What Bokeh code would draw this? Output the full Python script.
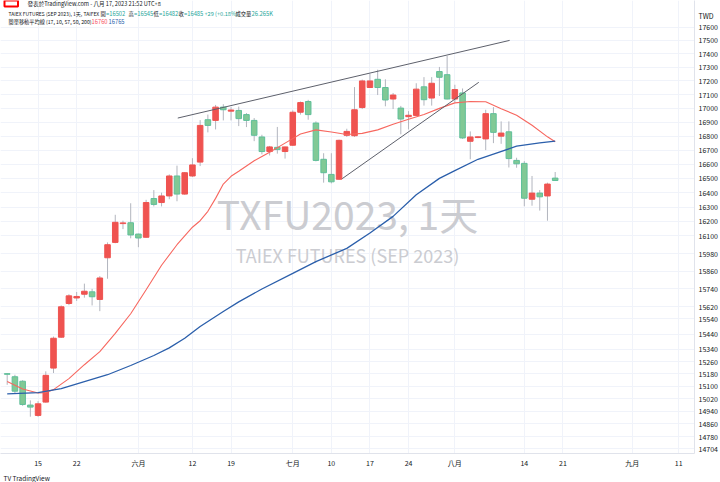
import math
from bokeh.plotting import figure
from bokeh.models import (Range1d, FixedTicker, PrintfTickFormatter, Label, Title,
                          ColumnDataSource)
from bokeh.embed import file_html
from bokeh.resources import INLINE

# ---------------- data ----------------
bar_idx = list(range(72))
opens = [15182, 15162, 15133, 14980, 14914, 14999, 15218, 15420, 15643, 15680,
         15705, 15721, 15670, 15951, 16056, 16185, 16191, 16113, 16091, 16359,
         16331, 16377, 16517, 16390, 16517, 16615, 16918, 16913, 17009, 16980,
         16985, 16955, 16913, 16794, 16690, 16720, 16690, 16735, 16972, 17050,
         16894, 16635, 16528, 16494, 16806, 16803, 17006, 17152, 17212, 17152,
         17068, 17002, 16940, 16949, 17157, 17075, 17269, 17246, 17068, 17112,
         16763, 16790, 16780, 16962, 16800, 16831, 16627, 16606, 16354, 16397,
         16377, 16502]
highs = [15186, 15175, 15140, 15010, 15005, 15197, 15424, 15630, 15705, 15720,
         15776, 15741, 15827, 16056, 16246, 16205, 16326, 16116, 16350, 16418,
         16400, 16528, 16590, 16545, 16643, 16915, 16955, 17025, 17030, 17009,
         17013, 16966, 16930, 16810, 16730, 16866, 16725, 16985, 17050, 17062,
         16906, 16678, 16678, 16775, 16853, 17155, 17210, 17253, 17283, 17212,
         17112, 17018, 16980, 17183, 17228, 17228, 17303, 17384, 17172, 17145,
         16834, 16800, 16990, 17009, 16906, 16906, 16646, 16622, 16517, 16418,
         16470, 16545]
lows = [15110, 15052, 14975, 14906, 14905, 14995, 15186, 15415, 15632, 15660,
        15682, 15630, 15592, 15809, 16050, 16147, 16084, 16023, 16088, 16304,
        16304, 16354, 16340, 16385, 16510, 16587, 16827, 16848, 16913, 16913,
        16872, 16865, 16764, 16670, 16662, 16675, 16640, 16730, 16955, 16918,
        16620, 16470, 16465, 16490, 16794, 16794, 16995, 17150, 17097, 17015,
        16995, 16813, 16848, 16945, 17020, 17020, 17090, 17065, 17042, 16780,
        16635, 16785, 16700, 16750, 16745, 16577, 16575, 16305, 16309, 16275,
        16205, 16482]
closes = [15178, 15069, 14984, 14967, 14988, 15171, 15413, 15621, 15694, 15690,
          15725, 15688, 15814, 16040, 16194, 16190, 16107, 16086, 16331, 16318,
          16377, 16517, 16390, 16540, 16595, 16877, 16877, 17009, 16990, 16988,
          16926, 16913, 16806, 16690, 16723, 16704, 16723, 16972, 17042, 16955,
          16627, 16540, 16476, 16770, 16834, 16990, 17200, 17200, 17152, 17061,
          17097, 16923, 16950, 17140, 17063, 17183, 17227, 17068, 17137, 16787,
          16794, 16795, 16962, 16827, 16822, 16640, 16603, 16361, 16397, 16371,
          16460, 16485]

ma_short_x = [0, 2, 4, 5, 6, 8, 10, 12, 14, 16, 18, 20, 22, 24, 25, 26, 27, 28, 29, 30,
              32, 34, 36, 38, 40, 42, 44, 46, 48, 50, 52, 54, 56, 58, 60, 62, 64, 66,
              68, 70, 71]
ma_short_y = [15131, 15083, 15057, 15060, 15079, 15150, 15240, 15325, 15445, 15575,
              15735, 15900, 16040, 16160, 16205, 16270, 16360, 16460, 16515, 16550,
              16625, 16685, 16750, 16815, 16845, 16830, 16812, 16820, 16845, 16885,
              16922, 16955, 17000, 17040, 17050, 17048, 16998, 16950, 16878, 16795,
              16760]
ma_long_x = [0, 4, 7, 10, 13, 16, 19, 21, 23, 25, 28, 30, 33, 37, 40, 44, 47, 50, 53,
             56, 58, 61, 63, 66, 69, 71]
ma_long_y = [15052, 15060, 15085, 15130, 15175, 15235, 15300, 15350, 15413, 15490,
             15590, 15654, 15740, 15845, 15925, 16015, 16120, 16235, 16385, 16500,
             16555, 16635, 16672, 16728, 16752, 16765]

trend_upper_x = [22.1, 65.1]
trend_upper_y = [16930, 17500]
trend_lower_x = [43.4, 61.1]
trend_lower_y = [16498, 17190]

x_tick_pos = [4, 9, 17, 24, 29, 37, 42, 47, 52, 58, 67, 72, 81, 87]
x_tick_labels = ["15", "22", "六月", "12", "19", "七月", "10", "17", "24", "八月",
                 "14", "21", "九月", "11"]
price_ticks = [17600, 17500, 17400, 17300, 17200, 17100, 17000, 16900, 16800, 16700,
               16600, 16500, 16400, 16300, 16200, 16100, 15980, 15860, 15740, 15620,
               15540, 15440, 15340, 15260, 15180, 15100, 15020, 14940, 14860, 14780,
               14704]
currency = "TWD"

# ---------------- layout ----------------
W, H = 720, 482
B_TOP, B_BOTTOM, B_RIGHT = 0, 26, 26
FRAME_W = W - B_RIGHT
FRAME_H = H - B_TOP - B_BOTTOM
PAGE_TOP = B_TOP
PAGE_BOTTOM = PAGE_TOP + FRAME_H
PX0, DX = 6.7, 7.718          # canvas x of first bar, px per bar
K, REF_P, REF_Y = 2361.0, 17600.0, 26.7   # log scale px per ln-unit

x_start = (0 - PX0) / DX
x_end = x_start + FRAME_W / DX
y_top = REF_P * math.exp((REF_Y - PAGE_TOP) / K)
y_bot = REF_P * math.exp(-(PAGE_BOTTOM - REF_Y) / K)
cur_tick = round(REF_P * math.exp((REF_Y - 16) / K))   # place of the unit label

FONT = "Noto Sans CJK TC"
DARK = "#131722"
TEAL = "#26a69a"
RED = "#ef5350"
GREEN = "#81c995"
GREEN_LINE = "#5fbf9a"
WICK = "#b2b5be"
GRID = "#f0f3fa"

p = figure(width=W, height=H, output_backend="svg", toolbar_location=None,
           y_axis_type="log", y_axis_location="right",
           x_range=Range1d(x_start, x_end), y_range=Range1d(y_bot, y_top),
           min_border_left=0, min_border_right=B_RIGHT, min_border_top=B_TOP,
           min_border_bottom=B_BOTTOM, background_fill_color="white",
           border_fill_color="white", outline_line_color=None)

# axes
yax = p.yaxis[0]
yax.ticker = FixedTicker(ticks=[cur_tick] + price_ticks)
yax.formatter = PrintfTickFormatter(format="%d")
yax.major_label_overrides = {cur_tick: currency}
xax = p.xaxis[0]
xax.ticker = FixedTicker(ticks=x_tick_pos)
xax.major_label_overrides = {t: l for t, l in zip(x_tick_pos, x_tick_labels)}
for ax in (xax, yax):
    ax.major_tick_line_color = None
    ax.minor_tick_line_color = None
    ax.major_tick_out = 0
    ax.major_tick_in = 0
    ax.axis_line_color = "#e0e3eb"
    ax.major_label_text_font = FONT
    ax.major_label_text_font_size = "7px"
    ax.major_label_text_color = DARK
    ax.major_label_standoff = 4

p.xgrid.ticker = FixedTicker(ticks=x_tick_pos)
p.ygrid.ticker = FixedTicker(ticks=price_ticks)
p.xgrid.grid_line_color = GRID
p.ygrid.grid_line_color = GRID
p.xgrid.minor_grid_line_color = None
p.ygrid.minor_grid_line_color = None

# watermark
cx = FRAME_W / 2
p.add_layout(Label(x=cx, y=PAGE_BOTTOM - 215, x_units="screen", y_units="screen",
                   text="TXFU2023, 1天", text_align="center", text_baseline="middle",
                   text_font=FONT, text_font_size="39px", text_color="#cbccd1",
                   level="underlay"))
p.add_layout(Label(x=cx, y=PAGE_BOTTOM - 257, x_units="screen", y_units="screen",
                   text="TAIEX FUTURES (SEP 2023)", text_align="center",
                   text_baseline="middle", text_font=FONT, text_font_size="18px",
                   text_color="#cbccd1", level="underlay"))

# candles
up = [c >= o for o, c in zip(opens, closes)]
src = ColumnDataSource(dict(
    x=bar_idx,
    top=[max(o, c) for o, c in zip(opens, closes)],
    bottom=[min(o, c) for o, c in zip(opens, closes)],
    high=highs, low=lows,
    fill=[RED if u else GREEN for u in up],
    line=[RED if u else GREEN_LINE for u in up],
))
p.segment(x0="x", y0="low", x1="x", y1="high", source=src, line_color=WICK, line_width=1)
p.vbar(x="x", width=0.72, top="top", bottom="bottom", source=src,
       fill_color="fill", line_color="line", line_width=1)

# moving averages
p.line(ma_short_x, ma_short_y, line_color="#f7675f", line_width=1.1)
p.line(ma_long_x, ma_long_y, line_color="#2b5fab", line_width=1.3)

# trend lines
p.line(trend_upper_x, trend_upper_y, line_color="#5d606b", line_width=1)
p.line(trend_lower_x, trend_lower_y, line_color="#5d606b", line_width=1)


def hdr(page_x, page_y, text, color=DARK, size="5.8px", **kw):
    p.add_layout(Label(x=page_x, y=PAGE_BOTTOM - page_y, x_units="screen",
                       y_units="screen", text=text, text_color=color,
                       text_font=FONT, text_font_size=size, text_baseline="middle",
                       **kw))


# header line 1
hdr(4, 6, "\u3000\u3000\u3000", border_line_color="#ff0000", border_line_width=2,
    background_fill_color="white", size="4.5px")
hdr(27, 6, "發表於TradingView.com - 八月 17, 2023 21:52 UTC+8", size="5.6px")
# header line 2
L2 = 16
hdr(8, L2, "TAIEX FUTURES (SEP 2023), 1天, TAIFEX", size="5px")
for xx, lab, val in [(100, "開", "=16502"), (128, "高", "=16545"),
                     (153, "低", "=16482"), (178, "收", "=16485")]:
    hdr(xx, L2, lab, size="5.3px")
    hdr(xx + 5.5, L2, val, TEAL)
hdr(204, L2, "+29 (+0.18%)", TEAL, size="5.6px")
hdr(235, L2, "成交量", size="5.3px")
hdr(251, L2, "26.265K", TEAL)
# header line 3
L3 = 24
hdr(8, L3, "簡單移動平均線 (17, 10, 57, 50, 200)", size="5.2px")
hdr(91, L3, "16760", "#f7525f")
hdr(108, L3, "16765", "#2b5fab")

# logo line
p.add_layout(Title(text="TV TradingView", align="left", text_font=FONT,
                   text_font_size="6.5px", text_color=DARK, text_font_style="normal",
                   standoff=0, offset=3), "below")

open("out.html", "w").write(file_html(p, INLINE))
